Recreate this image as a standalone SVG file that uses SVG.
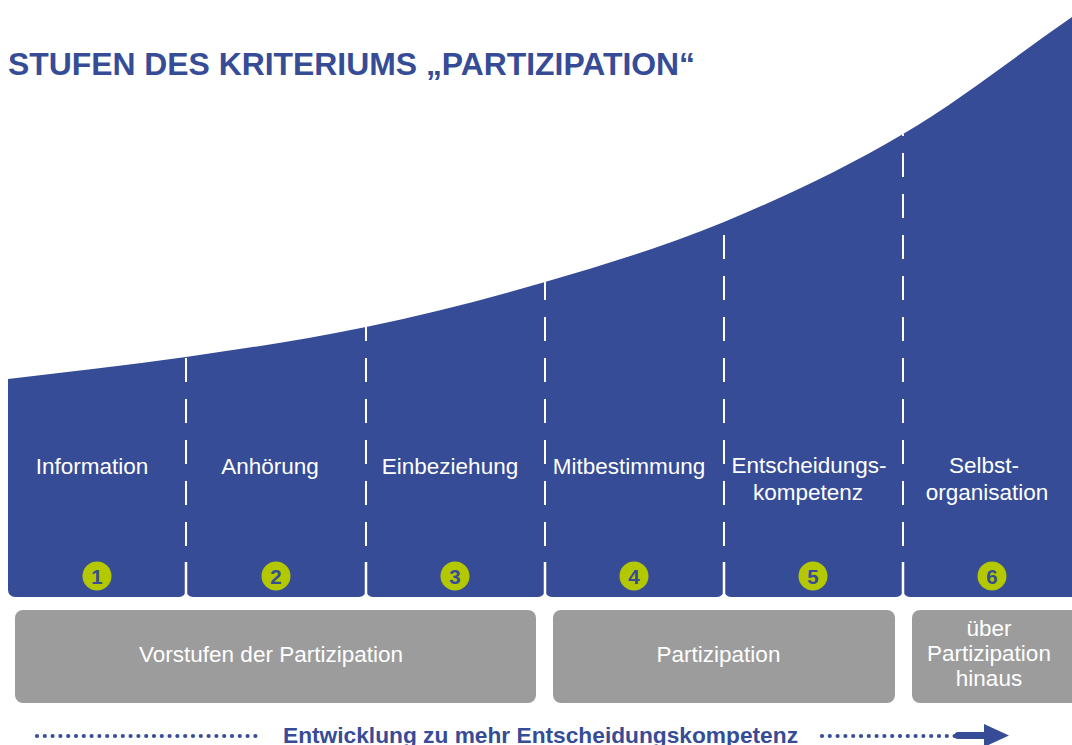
<svg xmlns="http://www.w3.org/2000/svg" width="1072" height="745" viewBox="0 0 1072 745">
  <style>
    .col { fill: #364c97; }
    .lbl { font-family: "Liberation Sans", Arial, sans-serif; font-size: 22.5px; fill: #ffffff; text-anchor: middle; }
    .num { font-family: "Liberation Sans", Arial, sans-serif; font-size: 20.5px; font-weight: bold; fill: #364c97; text-anchor: middle; }
    .badge { fill: #b4c800; }
    .gray { fill: #9c9c9c; }
    .div { stroke: #ffffff; stroke-width: 2; stroke-dasharray: 24 17; fill: none; }
    .divend { stroke: #ffffff; stroke-width: 2.5; fill: none; }
    .dots { stroke: #364c97; stroke-width: 4.2; stroke-linecap: round; stroke-dasharray: 0 7.8; fill: none; }
  </style>
  <defs>
    <clipPath id="curve">
      <path d="M8,379 C67.3,371.7 126.3,365.7 186,357 C245.7,348.3 306.2,339.5 366,327 C425.8,314.5 485.3,299.5 545,282 C604.7,264.5 664.3,246.7 724,222 C783.7,197.3 845,168.2 903,134 C961,99.8 1015.7,56 1072,17 L1100,0 L1100,745 L8,745 Z"/>
    </clipPath>
  </defs>
  <rect width="1072" height="745" fill="#ffffff"/>
  <text x="8" y="75" font-family="'Liberation Sans', Arial, sans-serif" font-size="31" font-weight="bold" fill="#364c97" textLength="687" lengthAdjust="spacingAndGlyphs">STUFEN DES KRITERIUMS „PARTIZIPATION“</text>

  <g clip-path="url(#curve)">
    <g id="col1"><rect class="col" x="8" y="-20" width="178" height="617" rx="7"/></g>
    <g id="col2"><rect class="col" x="186" y="-20" width="180" height="617" rx="7"/></g>
    <g id="col3"><rect class="col" x="366" y="-20" width="179" height="617" rx="7"/></g>
    <g id="col4"><rect class="col" x="545" y="-20" width="179" height="617" rx="7"/></g>
    <g id="col5"><rect class="col" x="724" y="-20" width="179" height="617" rx="7"/></g>
    <g id="col6"><rect class="col" x="903" y="-20" width="190" height="617" rx="7"/></g>
    <g id="dividers">
      <path class="div" d="M186,-11 V587 M366,-11 V587 M545,-11 V587 M724,-11 V587 M903,-11 V587"/>
      <path class="divend" d="M186,562 V598 M366,562 V598 M545,562 V598 M724,562 V598 M903,562 V598"/>
    </g>
  </g>

  <g id="stage1">
    <text class="lbl" x="92" y="474">Information</text>
    <circle class="badge" cx="97" cy="576" r="14.5"/>
    <text class="num" x="97" y="583.5">1</text>
  </g>
  <g id="stage2">
    <text class="lbl" x="270" y="474">Anhörung</text>
    <circle class="badge" cx="276" cy="576" r="14.5"/>
    <text class="num" x="276" y="583.5">2</text>
  </g>
  <g id="stage3">
    <text class="lbl" x="450" y="474">Einbeziehung</text>
    <circle class="badge" cx="455" cy="576" r="14.5"/>
    <text class="num" x="455" y="583.5">3</text>
  </g>
  <g id="stage4">
    <text class="lbl" x="629" y="474">Mitbestimmung</text>
    <circle class="badge" cx="634" cy="576" r="14.5"/>
    <text class="num" x="634" y="583.5">4</text>
  </g>
  <g id="stage5">
    <text class="lbl" x="809" y="473">Entscheidungs-</text>
    <text class="lbl" x="808" y="500">kompetenz</text>
    <circle class="badge" cx="813" cy="576" r="14.5"/>
    <text class="num" x="813" y="583.5">5</text>
  </g>
  <g id="stage6">
    <text class="lbl" x="984" y="473">Selbst-</text>
    <text class="lbl" x="987" y="500">organisation</text>
    <circle class="badge" cx="992" cy="576" r="14.5"/>
    <text class="num" x="992" y="583.5">6</text>
  </g>

  <g id="group-vorstufen">
    <rect class="gray" x="15" y="610" width="521" height="93" rx="8"/>
    <text class="lbl" x="271" y="662">Vorstufen der Partizipation</text>
  </g>
  <g id="group-partizipation">
    <rect class="gray" x="553" y="610" width="342" height="93" rx="8"/>
    <text class="lbl" x="718.5" y="662">Partizipation</text>
  </g>
  <g id="group-ueber">
    <rect class="gray" x="912" y="610" width="168" height="93" rx="8"/>
    <text class="lbl" x="989" y="636">über</text>
    <text class="lbl" x="989" y="661">Partizipation</text>
    <text class="lbl" x="989" y="686">hinaus</text>
  </g>

  <g id="connectors">
    <path class="dots" d="M37,736 H256"/>
    <path class="dots" d="M822,736 H958"/>
    <path d="M958,735.5 H988" stroke="#364c97" stroke-width="7" stroke-linecap="round" fill="none"/>
    <path d="M984,724 L1009,735.5 L984,747 Z" fill="#364c97"/>
  </g>
  <text x="283" y="743" font-family="'Liberation Sans', Arial, sans-serif" font-size="22.7" font-weight="bold" fill="#364c97" textLength="515" lengthAdjust="spacingAndGlyphs">Entwicklung zu mehr Entscheidungskompetenz</text>
</svg>
